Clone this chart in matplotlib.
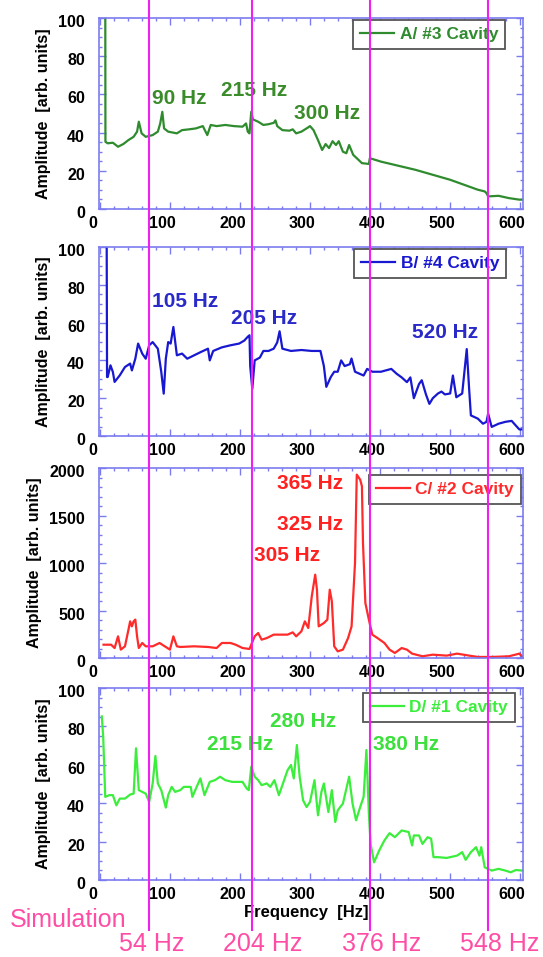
import matplotlib
matplotlib.use("Agg")
import matplotlib.pyplot as plt
from matplotlib.ticker import MultipleLocator
from matplotlib.lines import Line2D
from matplotlib.transforms import ScaledTranslation

plt.rcParams['font.family'] = ['Liberation Sans', 'DejaVu Sans']

# ---------------- data ----------------
freq_a = [7, 7.2, 10.4, 17.8, 25.2, 32.7, 40.1, 47.5, 52.4, 54.9, 58.9, 64.8, 74.7, 82.1, 85.5,
          88.5, 91, 96.9, 109.3, 116.7, 126.6, 136.5, 146.4, 152.8, 157.7, 166.1, 178.5, 190.9,
          203.2, 208.2, 210.6, 213.1, 215.6, 218, 225.5, 232.9, 240.3, 247.7, 250.2, 252.7, 260.1,
          270, 274.9, 279.8, 287.3, 294.7, 299.6, 304.6, 311, 316.9, 321.9, 326.8, 331.8, 336.7,
          340.7, 346.6, 351.5, 355.5, 361.4, 366.4, 373.8, 383.7, 385.1, 401, 450.4, 499.9, 539.4,
          549.3, 551.8, 554.2, 569.1, 583.9, 598.7, 604.7]
amp_a = [100, 35.2, 34.4, 34.7, 32.6, 34.0, 36.1, 37.8, 40.5, 45.7, 39.6, 37.8, 38.7, 40.5, 44.8,
         50.9, 42.2, 40.5, 39.6, 41.3, 41.7, 42.2, 43.4, 38.7, 44.0, 43.4, 44.0, 43.4,
         43.1, 44.8, 40.5, 39.6, 50.9, 46.9, 45.7, 44.0, 44.4, 45.1, 46.4, 43.4, 41.3,
         41.0, 41.7, 39.6, 40.5, 42.2, 43.4, 41.3, 36.1, 30.9, 34.0, 31.9, 35.5, 33.5,
         35.5, 30.0, 29.2, 33.5, 28.3, 26.6, 24.0, 23.6, 26.6, 24.8, 20.5, 15.3, 10.1,
         9.2, 8.3, 6.6, 6.9, 5.7, 4.9, 4.9]

freq_b = [9, 9.5, 10.4, 14.4, 17.8, 20.3, 27.7, 35.1, 42.5, 45, 49.9, 53.9, 59.8, 64.8, 69.7, 74.7,
          82.1, 87, 90.5, 93.5, 96.9, 100.4, 104.3, 109.3, 116.7, 124.1, 134, 143.9, 153.8, 156.3,
          161.2, 173.6, 185.9, 198.3, 205.7, 210.6, 213.1, 214.1, 217.1, 220.5, 227.9, 232.9, 240.3,
          247.7, 252.7, 256.1, 260.1, 272.4, 287.3, 302.1, 314.5, 319.4, 322.9, 329.3, 334.2, 339.2,
          344.1, 349.1, 356.5, 358.9, 363.9, 376.2, 381.2, 388.6, 401, 415.8, 423.2, 430.6, 438.1,
          443, 448, 455.4, 459.3, 465.3, 470.2, 475.1, 482.5, 487.5, 492.4, 499.9, 503.8, 508.7,
          517.1, 523.6, 527, 529.5, 539.4, 546.8, 551.8, 554.2, 559.2, 569.1, 578.9, 587.8, 593.8,
          598.7, 604.7]
amp_b = [100, 31.2, 31.2, 37.4, 33.9, 28.6, 32.1, 36.5, 38.3, 34.7, 40.9, 48.9, 43.6, 40.9, 48.0, 49.7,
         46.2, 33.9, 22.4, 40.9, 49.7, 48.9, 57.7, 42.7, 43.6, 40.9, 42.7, 44.5, 46.2, 40.0,
         45.0, 46.9, 48.0, 48.9, 50.5, 52.5, 53.3, 37.0, 25.0, 40.0, 41.5, 45.0, 45.0,
         46.2, 49.5, 55.4, 46.2, 45.0, 45.5, 45.0, 45.0, 37.0, 26.0, 31.2, 34.0, 34.0,
         40.0, 37.0, 38.0, 41.0, 34.0, 32.0, 35.5, 34.0, 34.0, 35.5, 33.0, 31.0, 28.5,
         31.0, 20.0, 27.5, 29.5, 22.0, 17.0, 20.0, 22.5, 23.5, 22.0, 22.5, 32.0, 20.5,
         22.5, 46.0, 25.0, 10.9, 9.2, 6.5, 7.5, 11.8, 4.8, 6.5, 7.5, 8.0, 5.5,
         3.5, 3.5]

freq_c = [4.5, 15.3, 20.3, 25.2, 29.2, 35.1, 40.1, 42.5, 45, 47.5, 49.9, 52.4, 54.9, 59.8, 64.8, 74.7,
          84.6, 92, 99.4, 104.3, 109.3, 114.2, 134, 153.8, 166.1, 173.6, 185.9, 193.3, 203.2, 213.1,
          215.6, 220.5, 225.5, 230.4, 237.8, 247.7, 267.5, 274.9, 279.8, 287.3, 292.2, 297.1, 302.1,
          307, 309.5, 312, 319.4, 324.4, 327.8, 330.8, 334.2, 339.2, 346.6, 354, 359, 363.9, 366.4,
          371.3, 373.8, 375.3, 378.7, 383.7, 388.6, 396, 405.9, 413.3, 420.8, 430.6, 438.1, 445.5,
          460.3, 475.1, 494.9, 509.7, 524.6, 539.4, 559.2, 583.9, 598.7, 603.7]
amp_c = [140, 140, 105, 228, 88, 123, 298, 386, 333, 386, 404, 228, 105, 158, 123, 123,
         158, 123, 88, 228, 123, 116, 123, 116, 105, 158, 158, 140, 105, 95,
         140, 228, 263, 193, 210, 246, 246, 270, 228, 281, 386, 316, 649,
         877, 719, 333, 368, 404, 719, 596, 123, 70, 88, 210, 333, 1000, 1930,
         1877, 1807, 1211, 579, 404, 246, 210, 158, 88, 53, 105, 88, 46,
         18, 35, 25, 46, 28, 11, 11, 18, 46, 11]

freq_d = [2, 4, 6.9, 12.9, 17.8, 22.8, 27.7, 35.1, 42.5, 47.5, 50.9, 54.9, 59.8, 64.8, 69.7, 74.7,
          78.6, 82.1, 87, 93.5, 96.9, 101.9, 106.8, 114.2, 119.2, 129.1, 131.5, 136.5, 142.9, 148.8,
          156.3, 163.7, 171.1, 178.5, 188.4, 203.2, 209.2, 212.1, 215.6, 220.5, 225.5, 230.4, 237.8,
          242.8, 248.7, 255.1, 260.1, 267.5, 272.4, 276.4, 280.8, 284.8, 289.7, 294.7, 299.6, 306,
          311, 315.9, 319.4, 325.8, 330.8, 335.7, 339.2, 346.6, 355.5, 360.4, 365.4, 371.3, 376.2,
          380.2, 383.7, 386.2, 391.1, 398.5, 405.9, 413.3, 420.8, 430.6, 440.5, 445.5, 448, 455.4,
          460.3, 467.7, 472.7, 476.1, 482.5, 494.9, 509.7, 517.1, 522, 529.5, 536.9, 541.8, 544.3,
          549.3, 559.2, 569.1, 578.9, 586.3, 593.8, 603.7]
amp_d = [85.2, 74.7, 43.3, 44.2, 44.2, 38.9, 42.4, 42.4, 44.5, 45.0, 68.6, 46.8, 45.9, 45.0, 40.7, 50.3,
         64.6, 50.3, 46.8, 37.7, 44.2, 48.5, 45.9, 46.8, 48.5, 48.5, 43.3, 47.6, 52.9, 44.2,
         51.1, 52.0, 53.8, 52.0, 51.1, 51.1, 47.6, 46.8, 59.0, 53.8, 52.0, 49.4, 50.3,
         48.5, 52.0, 44.2, 49.4, 57.2, 59.9, 52.9, 70.3, 53.8, 41.5, 38.0, 40.7, 52.0,
         33.7, 45.9, 50.3, 35.4, 46.8, 30.2, 36.3, 39.8, 53.8, 39.8, 31.1, 38.0, 43.3,
         67.7, 34.6, 18.8, 9.2, 15.4, 20.6, 24.4, 22.3, 25.8, 25.0, 18.0, 23.2, 23.2,
         18.8, 22.3, 21.5, 11.9, 11.9, 11.5, 12.7, 14.5, 10.5, 14.5, 17.1, 12.7, 17.1,
         6.6, 4.9, 5.8, 4.9, 4.0, 5.2, 4.9]

series_labels = ["A/ #3 Cavity", "B/ #4 Cavity", "C/ #2 Cavity", "D/ #1 Cavity"]
peak_labels = [
    [("90 Hz", 74, 58), ("215 Hz", 173, 62), ("300 Hz", 277, 50)],
    [("105 Hz", 74, 71), ("205 Hz", 186, 62), ("520 Hz", 445, 54.5)],
    [("365 Hz", 253, 1842), ("325 Hz", 253, 1410), ("305 Hz", 220, 1074)],
    [("280 Hz", 243, 82.7), ("215 Hz", 153, 70.7), ("380 Hz", 389, 70.7)],
]
sim_lines = [70, 217, 386, 554]
sim_labels = ["54 Hz", "204 Hz", "376 Hz", "548 Hz"]

# ---------------- style ----------------
W, H = 543, 957
fig = plt.figure(figsize=(W / 100, H / 100), dpi=100)

line_colors = ['#2e8b2e', '#1818d0', '#ff2a2a', '#3cee3c']
text_colors = ['#3a8c2a', '#2a2ac8', '#ff2020', '#3ce03c']
spine_col = '#7b7bf0'
magenta = '#f020f0'
pink = '#ff4da6'

left_px, right_px = 99, 523
panels_px = [(18, 209), (247, 436), (468, 658), (688, 880)]
legend_px = [(505, 20), (506, 249), (521, 475), (515, 693)]

freqs = [freq_a, freq_b, freq_c, freq_d]
amps = [amp_a, amp_b, amp_c, amp_d]

axes = []
for i in range(4):
    top, bot = panels_px[i]
    ax = fig.add_axes([left_px / W, (H - bot) / H, (right_px - left_px) / W, (bot - top) / H])
    axes.append(ax)
    ax.plot(freqs[i], amps[i], color=line_colors[i], lw=1.6, label=series_labels[i])
    ax.set_xlim(-2, 604)
    ax.set_xticks([0, 100, 200, 300, 400, 500, 600])
    ax.xaxis.set_minor_locator(MultipleLocator(20))
    if i == 2:
        ax.set_ylim(0, 2000)
        ax.set_yticks([0, 500, 1000, 1500, 2000])
        ax.yaxis.set_minor_locator(MultipleLocator(100))
    else:
        ax.set_ylim(0, 100)
        ax.set_yticks([0, 20, 40, 60, 80, 100])
        ax.yaxis.set_minor_locator(MultipleLocator(5))
    for s in ax.spines.values():
        s.set_color(spine_col)
        s.set_linewidth(1.2)
    ax.tick_params(which='both', direction='in', top=True, right=True, color=spine_col, width=1)
    ax.tick_params(which='major', length=5)
    ax.tick_params(which='minor', length=2.5)
    ax.tick_params(axis='x', pad=5, labelsize=11.5)
    ax.tick_params(axis='y', pad=10, labelsize=11.5)
    for lbl in ax.get_xticklabels() + ax.get_yticklabels():
        lbl.set_fontweight('bold')
    for lbl in ax.get_xticklabels():
        lbl.set_transform(lbl.get_transform() + ScaledTranslation(-0.08, 0, fig.dpi_scale_trans))
    for lbl in ax.get_yticklabels():
        lbl.set_transform(lbl.get_transform() + ScaledTranslation(0, -0.03, fig.dpi_scale_trans))
    ax.set_ylabel("Amplitude  [arb. units]", fontsize=11.5, fontweight='bold', labelpad=5)

    for txt, x, y in peak_labels[i]:
        ax.text(x, y, txt, color=text_colors[i], fontsize=15, fontweight='bold', ha='left', va='center')

    lx, ly = legend_px[i]
    leg = ax.legend(loc='upper right',
                    bbox_to_anchor=((lx - left_px) / (right_px - left_px), 1 - (ly - top) / (bot - top)),
                    borderaxespad=0, fancybox=False, framealpha=1, handlelength=2.0,
                    prop={'size': 12.5, 'weight': 'bold'}, labelcolor='linecolor',
                    borderpad=0.4, handletextpad=0.3)
    leg.get_frame().set_edgecolor('#555555')
    leg.get_frame().set_linewidth(1.3)
    leg.set_zorder(5)

axd = axes[3]
axd.set_xlabel("Frequency  [Hz]", fontsize=12, fontweight='bold')
axd.xaxis.set_label_coords((306 - left_px) / (right_px - left_px), -(905 - 880) / (880 - 688))
axd.xaxis.label.set_va('top')

# simulation lines across the whole figure
for xv in sim_lines:
    xd = axd.transData.transform((xv, 0))[0] / W
    fig.add_artist(Line2D([xd, xd], [(H - 930) / H, 1.0], color=magenta, lw=1.5, zorder=10))

fig.text(10 / W, (H - 920) / H, "Simulation", color=pink, fontsize=18, ha='left', va='center')
label_px = [152, 263, 382, 500]
for lab, xp in zip(sim_labels, label_px):
    fig.text(xp / W, (H - 944) / H, lab, color=pink, fontsize=18, ha='center', va='center')

fig.savefig("out.png", dpi=100)
